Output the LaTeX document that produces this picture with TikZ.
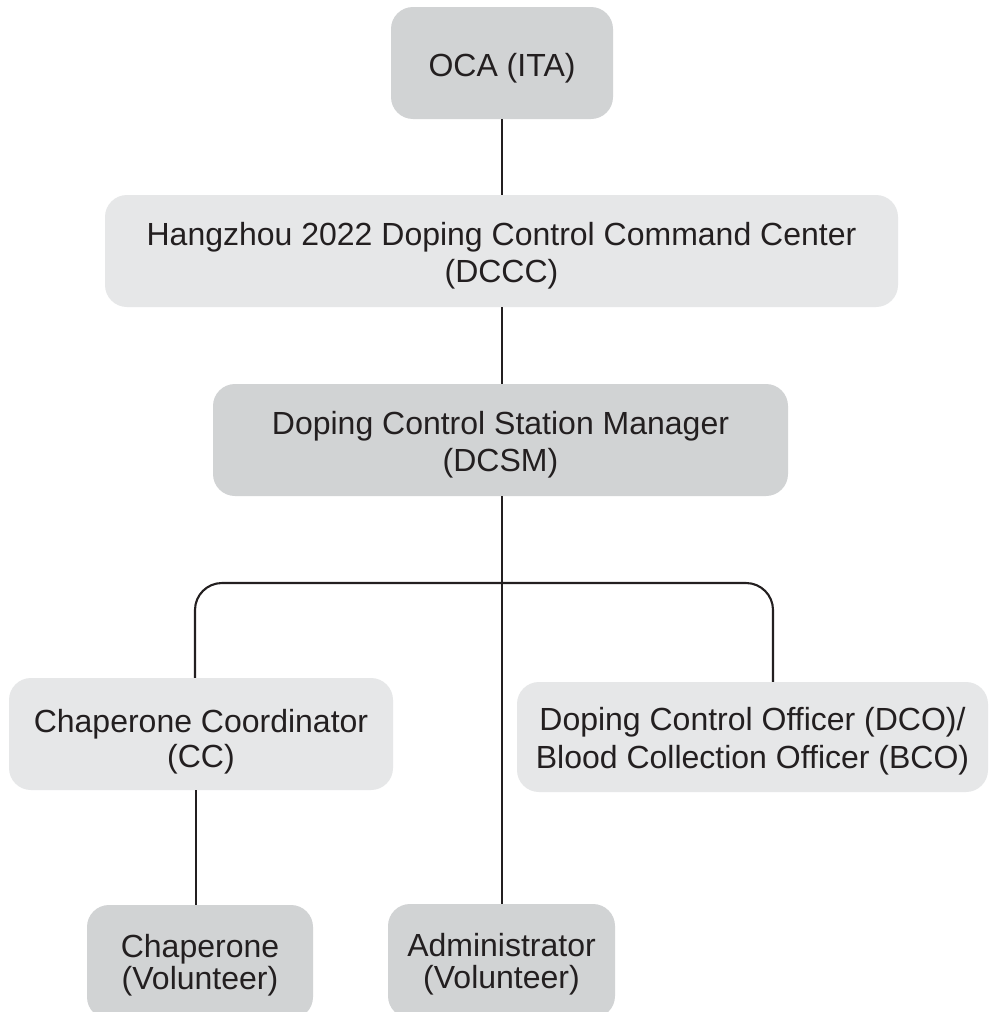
\documentclass[tikz,border=0pt]{standalone}
\usepackage{fontspec}
\setmainfont{Liberation Sans}
\definecolor{boxdark}{HTML}{D1D3D4}
\definecolor{boxlight}{HTML}{E6E7E8}
\definecolor{ink}{HTML}{231F20}
\begin{document}
\begin{tikzpicture}[x=1pt,y=-1pt,
  box/.style={rectangle, rounded corners=22pt, inner sep=0pt, minimum height=112pt},
  darkbox/.style={box, fill=boxdark},
  lightbox/.style={box, fill=boxlight},
  txt/.style={inner sep=0pt, align=center, text=ink, font=\fontsize{32}{37}\selectfont},
  conn/.style={draw=ink, line width=2.1pt}]
\clip (0,0) rectangle (990,1012);
\fill[white] (0,0) rectangle (990,1012);

\node[darkbox, minimum width=222pt] (oca) at (502,63) {};
\node[lightbox, minimum width=793pt] (dccc) at (501.5,251) {};
\node[darkbox, minimum width=575pt] (dcsm) at (500.5,440) {};
\node[lightbox, minimum width=384pt] (cc) at (201,734) {};
\node[lightbox, minimum width=471pt, minimum height=110pt] (dco) at (752.5,737) {};
\node[darkbox, minimum width=226pt, minimum height=114pt] (chap) at (200,962) {};
\node[darkbox, minimum width=227pt, minimum height=114pt] (admin) at (501.5,961) {};

\node[txt] (ocaT) at ([yshift=-5pt]oca.center) {OCA (ITA)};
\node[txt] (dcccT) at ([yshift=-5pt]dccc.center) {Hangzhou 2022 Doping Control Command Center\\(DCCC)};
\node[txt] (dcsmT) at ([yshift=-5pt]dcsm.center) {Doping Control Station Manager\\(DCSM)};
\node[txt, font=\fontsize{32}{35}\selectfont] (ccT) at ([yshift=-8pt]cc.center) {Chaperone Coordinator\\(CC)};
\node[txt, font=\fontsize{32}{38}\selectfont] (dcoT) at ([yshift=-4pt]dco.center) {Doping Control Officer (DCO)/\\Blood Collection Officer (BCO)};
\node[txt, font=\fontsize{32}{32}\selectfont] (chapT) at ([yshift=-3pt]chap.center) {Chaperone\\(Volunteer)};
\node[txt, font=\fontsize{32}{32}\selectfont] (adminT) at ([yshift=-3pt]admin.center) {Administrator\\(Volunteer)};

\coordinate (spine) at (502,0);
\coordinate (barL) at (195,583);
\coordinate (barR) at (773,583);
\coordinate (chx) at (196,0);

\draw[conn] (oca.south -| spine) -- (dccc.north -| spine);
\draw[conn] (dccc.south -| spine) -- (dcsm.north -| spine);
\draw[conn] (dcsm.south -| spine) -- (admin.north -| spine);
\draw[conn, rounded corners=27pt] (cc.north -| barL) -- (barL) -- (barR) -- (dco.north -| barR);
\draw[conn] (cc.south -| chx) -- (chap.north -| chx);
\end{tikzpicture}
\end{document}
